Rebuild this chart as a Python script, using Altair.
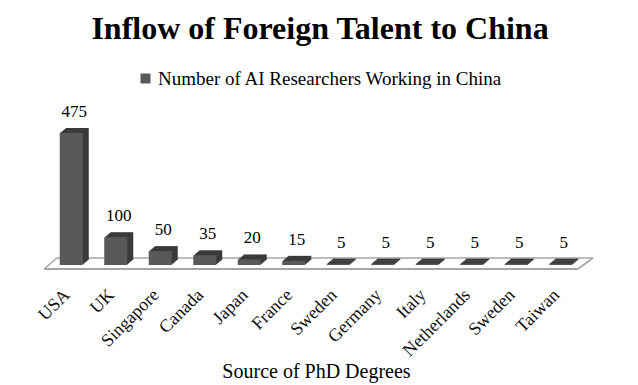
import json
import altair as alt
import pandas as pd

categories = ["USA", "UK", "Singapore", "Canada", "Japan", "France",
              "Sweden", "Germany", "Italy", "Netherlands", "Sweden", "Taiwan"]
values = [475, 100, 50, 35, 20, 15, 5, 5, 5, 5, 5, 5]
series_name = "Number of AI Researchers Working in China"

df = pd.DataFrame({
    "idx": list(range(len(categories))),
    "country": categories,
    "value": values,
    "series": [series_name] * len(categories),
})

FONT = "Liberation Serif"
W, H = 534, 139

label_expr = json.dumps(categories) + "[datum.value]"

x = alt.X(
    "idx:O",
    scale=alt.Scale(paddingInner=0.48, paddingOuter=0.24),
    axis=alt.Axis(
        title="Source of PhD Degrees",
        labelExpr=label_expr,
        labelAngle=-45,
        labelAlign="right",
        labelBaseline="middle",
        labelPadding=27,
        labelOffset=-4,
        ticks=False,
        domain=False,
        grid=False,
        labelFont=FONT,
        labelFontSize=18,
        labelColor="#111111",
        titleFont=FONT,
        titleFontSize=20,
        titleFontWeight="normal",
        titleColor="#000000",
        titleY=112,
        titleBaseline="alphabetic",
    ),
)
y = alt.Y("value:Q", scale=alt.Scale(domain=[0, 500], nice=False), axis=None)

base = alt.Chart(df).encode(x=x, y=y)

# floor (decorative parallelogram)
floor_col = "#a6a6a6"
floor = [
    alt.Chart(df.head(1)).mark_rule(color=floor_col, strokeWidth=1.6).encode(
        x=alt.value(8), x2=alt.value(544), y=alt.value(132), y2=alt.value(132)),
    alt.Chart(df.head(1)).mark_rule(color=floor_col, strokeWidth=2).encode(
        x=alt.value(-5), x2=alt.value(529), y=alt.value(143), y2=alt.value(143)),
    alt.Chart(df.head(1)).mark_rule(color=floor_col, strokeWidth=1.6).encode(
        x=alt.value(-5), x2=alt.value(8), y=alt.value(143), y2=alt.value(132)),
    alt.Chart(df.head(1)).mark_rule(color=floor_col, strokeWidth=1.6).encode(
        x=alt.value(529), x2=alt.value(544), y=alt.value(143), y2=alt.value(132)),
]

depth_layers = []
for k in range(1, 7):
    dx = k
    dy = -round(k * 5 / 6, 2)
    depth_layers.append(
        base.mark_bar(size=23, color="#3a3a3a", xOffset=dx, x2Offset=dx,
                      yOffset=dy, y2Offset=dy)
    )

front = base.mark_bar(size=23).encode(
    color=alt.Color(
        "series:N",
        scale=alt.Scale(range=["#595959"]),
        legend=alt.Legend(
            title=None,
            orient="none",
            legendX=87,
            legendY=-57,
            symbolType="square",
            symbolSize=100,
            symbolStrokeWidth=0,
            symbolFillColor="#666666",
            labelFont=FONT,
            labelFontSize=19,
            labelColor="#000000",
            labelLimit=0,
            labelOffset=3,
            padding=0,
        ),
    )
)

labels = base.mark_text(
    dy=-16, dx=3, baseline="alphabetic", font=FONT, fontSize=17, color="#000000"
).encode(text="value:Q")

chart = alt.layer(*floor, *depth_layers, front, labels).properties(
    width=W,
    height=H,
    autosize=alt.AutoSizeParams(type="none"),
    padding={"left": 41, "top": 118, "right": 45, "bottom": 118},
    background="white",
    title=alt.Title(
        "Inflow of Foreign Talent to China",
        font=FONT,
        fontSize=32,
        fontWeight="bold",
        color="#000000",
        anchor="middle",
        frame="group",
        offset=23,
        dx=4,
    ),
).configure_view(stroke=None)

chart.save("out.html", embed_options={"renderer": "svg", "actions": False})
